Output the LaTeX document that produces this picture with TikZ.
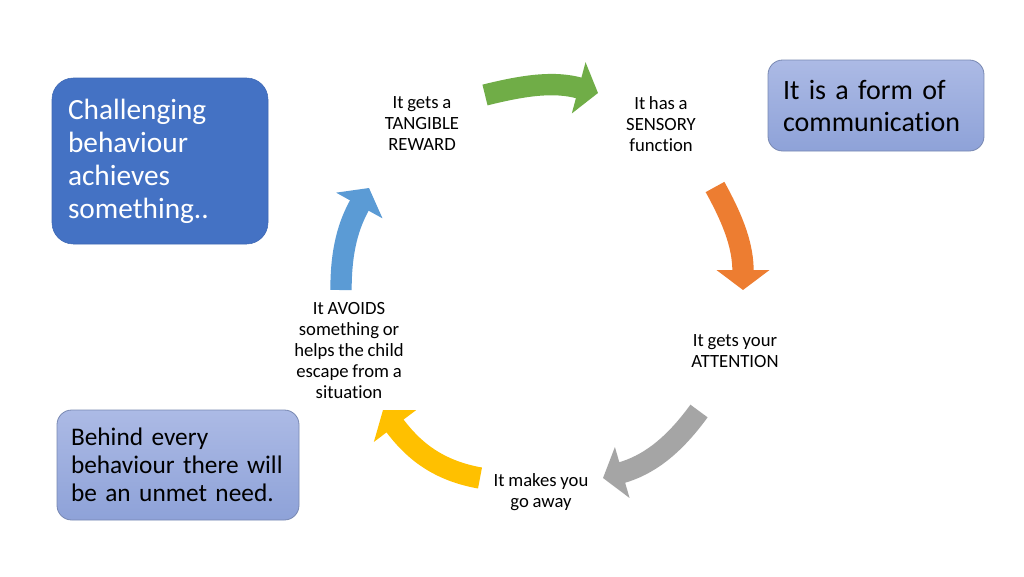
\documentclass[tikz,border=0pt]{standalone}
\usepackage{fontspec}
\setmainfont{Carlito}[Ligatures=NoCommon]
\usetikzlibrary{arrows.meta}
\definecolor{cgreen}{HTML}{70AD47}
\definecolor{corange}{HTML}{ED7D31}
\definecolor{cgray}{HTML}{A5A5A5}
\definecolor{cyellow}{HTML}{FFC000}
\definecolor{cblue}{HTML}{5B9BD5}
\definecolor{boxblue}{HTML}{4472C4}
\definecolor{lighttop}{RGB}{172,186,229}
\definecolor{lightbot}{RGB}{142,162,216}
\definecolor{lightedge}{RGB}{120,136,178}
\newcommand\tightsp{\spaceskip=0.2em\relax}
\begin{document}
\begin{tikzpicture}[x=0.75pt,y=0.75pt,
  lbl/.style={align=center, font=\fontsize{14}{15.75}\selectfont\tightsp, inner sep=0pt},
  cyc/.style={line width=16pt, -{Triangle[length=15pt,width=39pt]}},
  bigbox/.style={fill=boxblue, draw=boxblue!92!black, rounded corners=16pt, text=white,
    align=left, inner sep=0pt, font=\fontsize{22}{24.75}\selectfont\tightsp},
  lightbox/.style={top color=lighttop, bottom color=lightbot, draw=lightedge, line width=0.6pt,
    rounded corners=11pt, text=black, align=left, inner sep=0pt}]
\fill[white] (0,0) rectangle (1024,-576);
\useasboundingbox (0,0) rectangle (1024,-576);

% boxes
\node[bigbox, minimum width=162pt, minimum height=124.5pt, text width=138pt] (cb) at (160,-161)
  {Challenging\\behaviour\\achieves\\something..};
\node[lightbox, minimum width=162pt, minimum height=68.25pt, text width=139.5pt,
  font=\fontsize{21}{24}\selectfont\tightsp] (comm) at (876,-105.5)
  {It is a form of\\communication};
\node[lightbox, minimum width=181.5pt, minimum height=82.5pt, text width=160.5pt,
  font=\fontsize{19}{21}\selectfont\tightsp] (need) at (178,-465)
  {Behind every\\behaviour there will\\be an unmet need.};

% cycle labels
\node[lbl] (tang) at (422,-124) {It gets a\\TANGIBLE\\REWARD};
\node[lbl] (sens) at (661,-124) {It has a\\SENSORY\\function};
\node[lbl] (att) at (735,-351) {It gets your\\ATTENTION};
\node[lbl] (away) at (541,-492) {It makes you\\go away};
\node[lbl] (avoid) at (349,-351) {It AVOIDS\\something or\\helps the child\\escape from a\\situation};

% arrow end points
\coordinate (g1) at (485,-95);  \coordinate (g2) at (598,-93);
\coordinate (o1) at (715,-187); \coordinate (o2) at (743,-290);
\coordinate (r1) at (699,-411); \coordinate (r2) at (603,-478);
\coordinate (y1) at (480,-478); \coordinate (y2) at (383,-410);
\coordinate (b1) at (341,-290); \coordinate (b2) at (369,-188);

\draw[cyc, cgreen] (g1) to[out=14,in=165] (g2);
\draw[cyc, corange] (o1) to[out=-61,in=90] (o2);
\draw[cyc, cgray] (r1) to[out=-126,in=16] (r2);
\draw[cyc, cyellow] (y1) to[out=170,in=-53] (y2);
\draw[cyc, cblue] (b1) to[out=90,in=-119] (b2);
\end{tikzpicture}
\end{document}
